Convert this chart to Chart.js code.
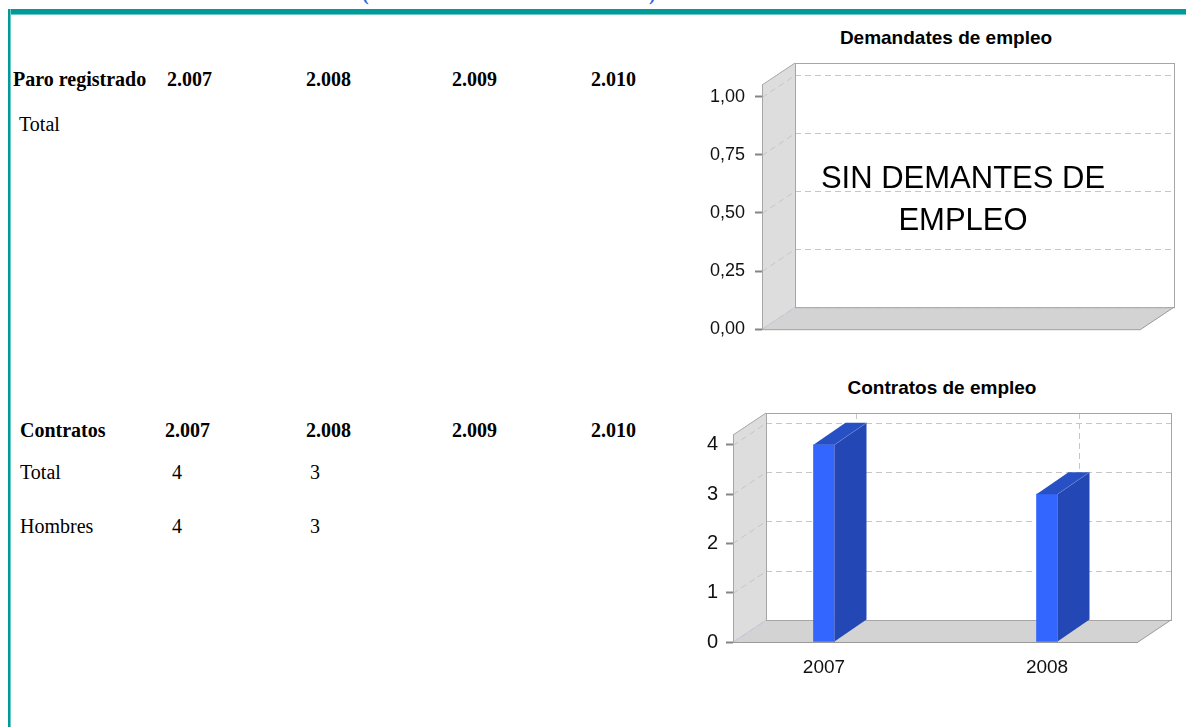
<!DOCTYPE html>
<html><head><meta charset="utf-8">
<script src="https://cdn.jsdelivr.net/npm/chart.js@4/dist/chart.umd.min.js"></script>
<style>
html,body{margin:0;padding:0;background:#fff;width:1186px;height:727px;overflow:hidden;position:relative;}
.t{position:absolute;font-family:"Liberation Serif","Times New Roman",serif;font-size:20px;line-height:20px;color:#000;white-space:nowrap;}
.b{font-weight:bold;}
.ct{position:absolute;font-family:"Liberation Sans",Arial,sans-serif;font-weight:bold;font-size:19px;line-height:20px;color:#000;text-align:center;width:300px;white-space:nowrap;}
#topbar{position:absolute;left:8px;top:9px;right:0;height:5px;background:#009a98;border-bottom:1px solid #6cc9c6;}
#leftbar{position:absolute;left:8px;top:9px;bottom:0;width:2px;background:#009a98;border-right:1px solid #6cc9c6;}
canvas{position:absolute;}
#nodata{position:absolute;left:763px;top:157px;width:400px;text-align:center;font-family:"Liberation Sans",Arial,sans-serif;font-size:31px;line-height:42px;color:#000;}
.blue{position:absolute;top:-17px;font-family:"Liberation Serif",serif;font-size:20px;line-height:20px;color:#3a64e0;font-weight:bold;}
</style></head><body>
<div class="blue" style="left:362px">(</div>
<div class="blue" style="left:649px">)</div>
<div id="topbar"></div><div id="leftbar"></div>
<div id="tables"></div>
<div class="ct" style="left:796px;top:28px">Demandates de empleo</div>
<div class="ct" style="left:792px;top:378px">Contratos de empleo</div>
<canvas id="c1" width="496" height="330" style="left:690px;top:20px;width:496px;height:330px"></canvas>
<canvas id="c2" width="496" height="320" style="left:690px;top:370px;width:496px;height:320px"></canvas>
<div id="nodata">SIN DEMANTES DE<br>EMPLEO</div>
<script>
// ---- data ----
const paroHeader = ['2.007','2.008','2.009','2.010'];
const paroTotal = ['', '', '', ''];
const contratosHeader = ['2.007','2.008','2.009','2.010'];
const contratosTotal = [4, 3, null, null];
const contratosHombres = [4, 3, null, null];
const demandCategories = [];
const demandValues = [];
const demandTicks = [0, 0.25, 0.5, 0.75, 1];
const contratosCategories = ['2007', '2008'];
const contratosValues = [4, 3];
const contratosTicks = [0, 1, 2, 3, 4];

// ---- tables ----
const tables = document.getElementById('tables');
function txt(s, x, baseline, bold){
  const d = document.createElement('div');
  d.className = 't' + (bold ? ' b' : '');
  d.style.left = x + 'px'; d.style.top = (baseline - 17) + 'px';
  d.textContent = s; tables.appendChild(d);
}
const hdr1X = [167, 306, 452, 591];
const hdr2X = [165, 306, 452, 591];
const valX = [172, 310, 452, 591];
txt('Paro registrado', 13, 86, true);
paroHeader.forEach((s,i)=>txt(s, hdr1X[i], 86, true));
txt('Total', 19, 131, false);
paroTotal.forEach((v,i)=>{ if(v!=='' && v!=null) txt(String(v), valX[i], 131, false); });
txt('Contratos', 20, 437, true);
contratosHeader.forEach((s,i)=>txt(s, hdr2X[i], 437, true));
txt('Total', 20, 479, false);
contratosTotal.forEach((v,i)=>{ if(v!=null) txt(String(v), valX[i], 479, false); });
txt('Hombres', 20, 533, false);
contratosHombres.forEach((v,i)=>{ if(v!=null) txt(String(v), valX[i], 533, false); });

// ---- 3D plugin ----
function poly(ctx, pts){ctx.beginPath();ctx.moveTo(pts[0][0],pts[0][1]);for(let i=1;i<pts.length;i++)ctx.lineTo(pts[i][0],pts[i][1]);ctx.closePath();}
function seg(ctx,x1,y1,x2,y2){ctx.beginPath();ctx.moveTo(x1,y1);ctx.lineTo(x2,y2);ctx.stroke();}
const box3d = {
  id: 'box3d',
  beforeDraw(chart, args, o){
    const ctx = chart.ctx, a = chart.chartArea, y = chart.scales.y, x = chart.scales.x;
    const dx = o.dx, dy = o.dy;
    const L = a.left, R = a.right, T = a.top, B = a.bottom;
    ctx.save();
    ctx.fillStyle = '#dddddd';
    poly(ctx, [[L,T],[L+dx,T-dy],[L+dx,B-dy],[L,B]]); ctx.fill();
    ctx.fillStyle = '#d3d3d3';
    poly(ctx, [[L,B],[L+dx,B-dy],[R+dx,B-dy],[R,B]]); ctx.fill();
    ctx.fillStyle = '#ffffff';
    ctx.fillRect(L+dx, T-dy, R-L, B-T);
    ctx.lineWidth = 1; ctx.strokeStyle = '#c6c6c6'; ctx.setLineDash([6,4]);
    y.ticks.forEach(t=>{
      const py = Math.round(y.getPixelForValue(t.value)) + 0.5;
      seg(ctx, L, py, L+dx, py-dy);
      seg(ctx, L+dx, py-dy, R+dx, py-dy);
    });
    if (o.vgrid) x.ticks.forEach(t=>{
      const px = Math.round(x.getPixelForValue(t.value) + o.bdx) + 0.5;
      seg(ctx, px, T-dy, px, B-dy);
    });
    ctx.setLineDash([]);
    ctx.strokeStyle = '#a6a6a6';
    ctx.strokeRect(Math.round(L+dx)+0.5, Math.round(T-dy)+0.5, R-L, B-T);
    seg(ctx, L, T, L+dx, T-dy);
    ctx.strokeStyle = '#9a9a9a';
    seg(ctx, L, B+0.5, R, B+0.5);
    seg(ctx, R, B, R+dx, B-dy);
    ctx.strokeStyle = '#c8c8dc';
    seg(ctx, L, B, L+dx, B-dy);
    ctx.restore();
  },
  afterDatasetsDraw(chart, args, o){
    const ctx = chart.ctx;
    const meta = chart.getDatasetMeta(0);
    if (!meta || !meta.data) return;
    ctx.save();
    meta.data.forEach(bar=>{
      const p = bar.getProps(['x','y','base','width'], true);
      const l = p.x - p.width/2, r = p.x + p.width/2;
      ctx.fillStyle = o.side;
      poly(ctx, [[r,p.y],[r+o.bdx,p.y-o.bdy],[r+o.bdx,p.base-o.bdy],[r,p.base]]); ctx.fill();
      ctx.fillStyle = o.top;
      poly(ctx, [[l,p.y],[l+o.bdx,p.y-o.bdy],[r+o.bdx,p.y-o.bdy],[r,p.y]]); ctx.fill();
      ctx.strokeStyle = 'rgba(120,140,200,0.6)'; ctx.lineWidth = 0.8;
      seg(ctx, r, p.y, r+o.bdx, p.y-o.bdy);
      seg(ctx, r, p.y, r, p.base);
    });
    ctx.restore();
  }
};

const fontSans = '"Liberation Sans", Arial, sans-serif';

// ---- Chart 1: Demandates de empleo ----
new Chart(document.getElementById('c1'), {
  type: 'bar',
  data: { labels: demandCategories, datasets: [{ data: demandValues, backgroundColor: '#3366ff' }] },
  plugins: [box3d],
  options: {
    responsive: false, animation: false, devicePixelRatio: 1,
    layout: { padding: { left: 0, right: 45, top: 65, bottom: 19 } },
    plugins: { legend: { display: false }, tooltip: { enabled: false }, title: { display: false },
      box3d: { dx: 33, dy: 22, bdx: 31, bdy: 22, vgrid: false, side: '#2347b5', top: '#2650c4' } },
    scales: {
      x: { display: false },
      y: {
        min: 0, max: 1.05,
        afterBuildTicks: s => { s.ticks = demandTicks.map(v => ({ value: v })); },
        afterFit: s => { s.width = 72; },
        grid: { drawOnChartArea: false, tickLength: 7, tickColor: '#858585', tickWidth: 2 },
        border: { display: true, color: '#a6a6a6', width: 1 },
        ticks: { padding: 10, color: '#111', font: { family: fontSans, size: 18 },
          callback: v => Number(v).toFixed(2).replace('.', ',') }
      }
    }
  }
});

// ---- Chart 2: Contratos de empleo ----
new Chart(document.getElementById('c2'), {
  type: 'bar',
  data: { datasets: [{ data: contratosValues.map((v, i) => ({ x: i, y: v })),
    backgroundColor: '#3366ff', borderWidth: 0, barThickness: 21 }] },
  plugins: [box3d],
  options: {
    responsive: false, animation: false, devicePixelRatio: 1,
    layout: { padding: { left: 0, right: 48, top: 65, bottom: 0 } },
    plugins: { legend: { display: false }, tooltip: { enabled: false }, title: { display: false },
      box3d: { dx: 33, dy: 22, bdx: 32, bdy: 22, vgrid: true, side: '#2347b5', top: '#2650c4' } },
    scales: {
      x: {
        type: 'linear', offset: false, min: -0.408, max: 1.408,
        afterBuildTicks: s => { s.ticks = contratosCategories.map((_, i) => ({ value: i })); },
        afterFit: s => { s.height = 48; },
        grid: { display: false, drawTicks: false, offset: false },
        border: { display: false },
        ticks: { padding: 14, color: '#111', font: { family: fontSans, size: 19 },
          callback: v => contratosCategories[v] }
      },
      y: {
        min: 0, max: 4.2,
        afterBuildTicks: s => { s.ticks = contratosTicks.map(v => ({ value: v })); },
        afterFit: s => { s.width = 43; },
        grid: { drawOnChartArea: false, tickLength: 7, tickColor: '#858585', tickWidth: 2 },
        border: { display: true, color: '#a6a6a6', width: 1 },
        ticks: { padding: 8, color: '#111', font: { family: fontSans, size: 20 } }
      }
    }
  }
});
</script>
</body></html>
